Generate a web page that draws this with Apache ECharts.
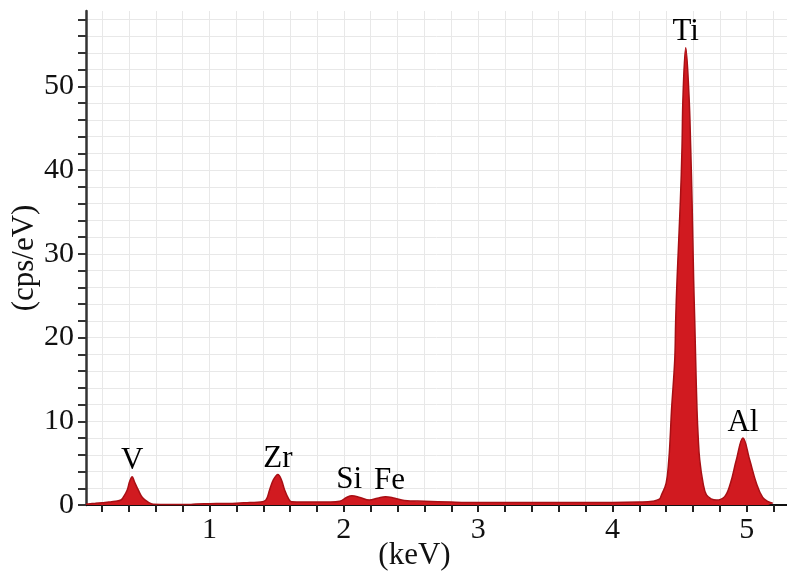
<!DOCTYPE html>
<html>
<head>
<meta charset="utf-8">
<script src="https://cdn.jsdelivr.net/npm/echarts@6/dist/echarts.min.js"></script>
<style>
  html, body { margin: 0; padding: 0; background: #fff; }
  #chart { width: 787px; height: 571px; }
</style>
</head>
<body>
<div id="chart"></div>
<script>
// spectrum (keV, cps/eV)
const energy = [
  0.08, 0.15, 0.20, 0.25, 0.30, 0.34, 0.36, 0.387, 0.405, 0.424, 0.44, 0.469, 0.50, 0.546, 0.58, 0.70, 0.85,
  0.90, 1.00, 1.10, 1.20, 1.30, 1.38, 1.42, 1.447, 1.475, 1.509, 1.535, 1.559, 1.59, 1.61, 1.70, 1.80, 1.90,
  1.97, 2.02, 2.06, 2.12, 2.19, 2.25, 2.31, 2.38, 2.45, 2.60, 2.80, 3.00, 3.50, 4.00, 4.20, 4.30, 4.35,
  4.365, 4.40, 4.42, 4.43, 4.44, 4.464, 4.471, 4.481, 4.506, 4.518, 4.526, 4.546, 4.570, 4.583, 4.593, 4.605,
  4.613, 4.620, 4.630, 4.639, 4.650, 4.675, 4.700, 4.74, 4.774, 4.836, 4.879, 4.923, 4.972, 5.022, 5.072,
  5.119, 5.16, 5.194
];
const counts = [
  0.1, 0.2, 0.28, 0.35, 0.45, 0.6, 1.0, 1.8, 2.8, 3.37, 2.8, 1.8, 0.9, 0.3, 0.08, 0.05, 0.05,
  0.12, 0.15, 0.18, 0.22, 0.3, 0.35, 0.6, 1.8, 3.0, 3.65, 3.0, 1.8, 0.7, 0.4, 0.35, 0.35, 0.35,
  0.45, 0.9, 1.1, 0.9, 0.6, 0.8, 1.0, 0.8, 0.55, 0.45, 0.35, 0.3, 0.3, 0.3, 0.35, 0.45, 0.7,
  1.2, 2.6, 5.4, 8.0, 11.3, 17.3, 22.0, 26.8, 36.3, 42.6, 49, 54.6, 49, 42.6, 36.3, 26.8,
  22.0, 17.3, 11.3, 8.0, 5.4, 2.6, 1.2, 0.7, 0.6, 1.0, 2.6, 5.4, 8.0, 5.4, 2.6,
  0.9, 0.4, 0.2
];

// element labels
const peakNames = ['V', 'Zr', 'Si', 'Fe', 'Ti', 'Al'];
const peakEnergy = [0.424, 1.509, 2.04, 2.34, 4.546, 4.972];
const peakHeight = [3.37, 3.65, 1.1, 1.0, 54.6, 8.0];

// ticks
const xTicks = [0.2, 0.4, 0.6, 0.8, 1.0, 1.2, 1.4, 1.6, 1.8, 2.0, 2.2, 2.4, 2.6, 2.8, 3.0, 3.2, 3.4, 3.6,
  3.8, 4.0, 4.2, 4.4, 4.6, 4.8, 5.0, 5.2];
const xLabels = [1, 2, 3, 4, 5];
const yTicks = [0, 2, 4, 6, 8, 10, 12, 14, 16, 18, 20, 22, 24, 26, 28, 30, 32, 34, 36, 38, 40, 42, 44, 46,
  48, 50, 52, 54, 56, 58];
const yLabels = [0, 10, 20, 30, 40, 50];

const serif = 'Liberation Serif';
const chart = echarts.init(document.getElementById('chart'));

const option = {
  animation: false,
  grid: { left: 86, right: 0, top: 11, bottom: 66, outerBoundsMode: 'none' },
  xAxis: [
    {
      type: 'value',
      min: 0.08,
      max: 5.3,
      name: '(keV)',
      nameLocation: 'middle',
      nameGap: 35,
      nameMoveOverlap: false,
      nameTextStyle: { fontFamily: serif, fontSize: 31, color: '#111', padding: [0, 44, 0, 0] },
      axisLine: { show: true, onZero: false, lineStyle: { color: '#222', width: 2 } },
      axisTick: { show: true, length: 7, customValues: xTicks, lineStyle: { color: '#222', width: 2 } },
      axisLabel: { customValues: xLabels, margin: 10, fontFamily: serif, fontSize: 30, color: '#111' },
      splitLine: { show: true, customValues: xTicks, lineStyle: { color: '#e8e8e8', width: 1 } }
    },
    {
      type: 'value',
      position: 'top',
      min: 0.08,
      max: 5.3,
      axisLine: { show: true, lineStyle: { color: '#111', width: 2 } },
      axisTick: { show: false },
      axisLabel: { show: false },
      splitLine: { show: false }
    }
  ],
  yAxis: {
    type: 'value',
    min: 0,
    max: 59,
    name: '(cps/eV)',
    nameLocation: 'middle',
    nameRotate: 90,
    nameGap: 46,
    nameMoveOverlap: false,
    nameTextStyle: { fontFamily: serif, fontSize: 31, color: '#111' },
    axisLine: { show: true, lineStyle: { color: '#333', width: 2.5 } },
    axisTick: { show: true, length: 8, customValues: yTicks, lineStyle: { color: '#333', width: 2 } },
    axisLabel: { customValues: yLabels, margin: 12, fontFamily: serif, fontSize: 30, color: '#111' },
    splitLine: { show: true, customValues: yTicks, lineStyle: { color: '#e8e8e8', width: 1 } }
  },
  series: [
    {
      type: 'line',
      data: energy.map((e, i) => [e, counts[i]]),
      smooth: 0.4,
      symbol: 'none',
      lineStyle: { color: '#a80f14', width: 1.5 },
      areaStyle: { color: '#d11a20', opacity: 1 }
    },
    {
      type: 'scatter',
      data: peakEnergy.map((e, i) => [e, peakHeight[i], peakNames[i]]),
      symbolSize: 0,
      itemStyle: { opacity: 1 },
      label: {
        show: true,
        position: 'top',
        distance: 0,
        formatter: p => p.value[2],
        fontFamily: serif,
        fontSize: 31,
        color: '#000',
        opacity: 1
      }
    }
  ]
};

chart.setOption(option);
</script>
</body>
</html>
